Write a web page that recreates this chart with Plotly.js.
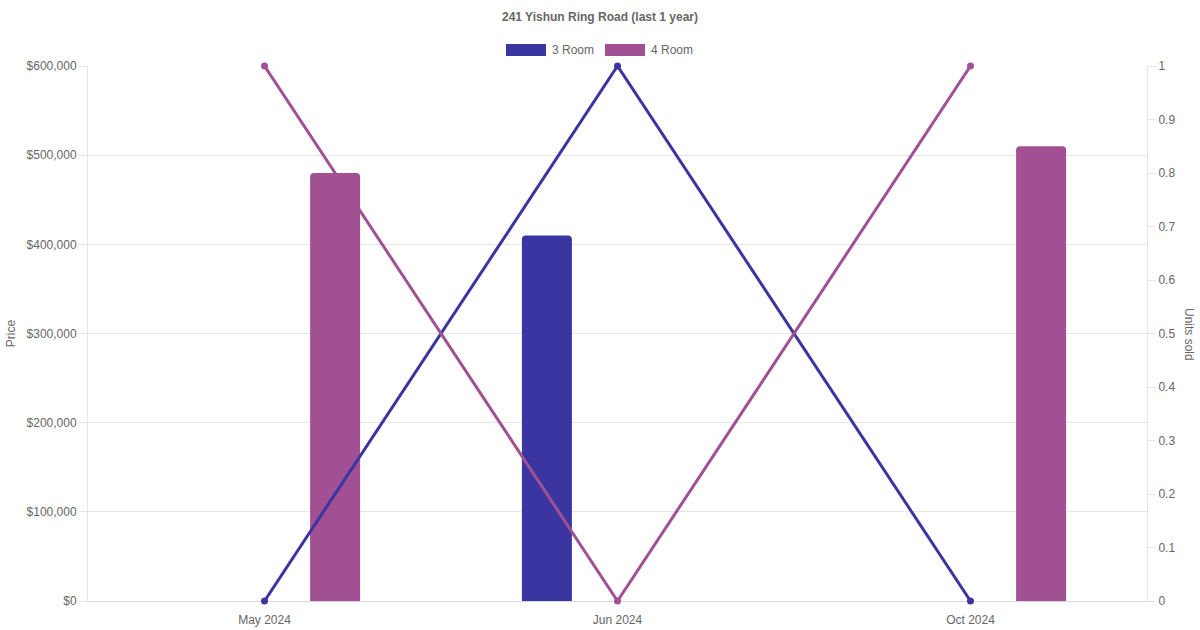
<!DOCTYPE html>
<html>
<head>
<meta charset="utf-8">
<script src="https://cdn.plot.ly/plotly-3.0.1.min.js"></script>
<style>html,body{margin:0;padding:0;background:#fff;}#chart{width:1200px;height:630px;}</style>
</head>
<body>
<div id="chart"></div>
<script>
const months = ["May 2024", "Jun 2024", "Oct 2024"];
const price3Room = [null, 410000, null];
const price4Room = [480000, null, 510000];
const units3Room = [0, 1, 0];
const units4Room = [1, 0, 1];
const seriesNames = ["3 Room", "4 Room"];
const priceTicks = [0, 100000, 200000, 300000, 400000, 500000, 600000];
const unitTicks = [0, 0.1, 0.2, 0.3, 0.4, 0.5, 0.6, 0.7, 0.8, 0.9, 1];

const c3 = "#3a35a0", c4 = "#a05093";
const xIdx = months.map((m, i) => i);
const bw = 50 / 353;

const traces = [
  {type: "scatter", mode: "lines+markers", x: xIdx, y: units3Room, yaxis: "y2", name: seriesNames[0],
   line: {color: c3, width: 3}, marker: {color: c3, size: 7}, showlegend: false, hoverinfo: "skip", cliponaxis: false},
  {type: "scatter", mode: "lines+markers", x: xIdx, y: units4Room, yaxis: "y2", name: seriesNames[1],
   line: {color: c4, width: 3}, marker: {color: c4, size: 7}, showlegend: false, hoverinfo: "skip", cliponaxis: false},
  {type: "bar", x: xIdx, y: price3Room, name: seriesNames[0], marker: {color: c3},
   width: bw, offset: -0.2 - bw / 2, showlegend: false},
  {type: "bar", x: xIdx, y: price4Room, name: seriesNames[1], marker: {color: c4},
   width: bw, offset: 0.2 - bw / 2, showlegend: false}
];

const font = {family: "Liberation Sans, Arial, sans-serif", size: 12, color: "#666"};

const layout = {
  width: 1200, height: 630,
  margin: {l: 88, r: 53, t: 66, b: 29},
  paper_bgcolor: "#fff", plot_bgcolor: "#fff",
  font: font,
  barmode: "overlay",
  barcornerradius: 4,
  showlegend: false,
  title: {text: "<b>241 Yishun Ring Road (last 1 year)</b>", x: 0.5, xanchor: "center", y: 1 - 17 / 630, yanchor: "middle",
          font: {family: font.family, size: 12, color: "#666"}},
  xaxis: {
    range: [-0.5, 2.5], tickvals: xIdx, ticktext: months, showgrid: false, zeroline: false,
    showline: true, linecolor: "#d9d9d9", linewidth: 1, ticks: "outside", ticklen: 8, tickcolor: "rgba(0,0,0,0)",
    tickfont: font, fixedrange: true, layer: "below traces"
  },
  yaxis: {
    range: [0, 600000], tickvals: priceTicks, ticktext: priceTicks.map(v => "$" + v.toLocaleString("en-US")),
    showgrid: true, gridcolor: "#e5e5e5", zeroline: false, showline: true, linecolor: "#e5e5e5",
    ticks: "outside", ticklen: 8, tickcolor: "#e5e5e5", tickfont: font, layer: "below traces",
    title: {text: "Price", font: font, standoff: 8}
  },
  yaxis2: {
    range: [0, 1], tickvals: unitTicks, ticktext: unitTicks.map(String), overlaying: "y", side: "right",
    showgrid: false, zeroline: false, showline: true, linecolor: "#e5e5e5", layer: "below traces",
    ticks: "outside", ticklen: 8, tickcolor: "#e5e5e5", tickfont: font
  },
  shapes: [
    {type: "rect", xref: "paper", yref: "paper", x0: (506 - 88) / 1059, x1: (546 - 88) / 1059,
     y0: (601 - 56) / 535, y1: (601 - 44) / 535, fillcolor: c3, line: {width: 0}},
    {type: "rect", xref: "paper", yref: "paper", x0: (605 - 88) / 1059, x1: (645 - 88) / 1059,
     y0: (601 - 56) / 535, y1: (601 - 44) / 535, fillcolor: c4, line: {width: 0}}
  ],
  annotations: [
    {text: seriesNames[0], xref: "paper", yref: "paper", x: (550 - 88) / 1059, y: (601 - 50) / 535,
     xanchor: "left", yanchor: "middle", showarrow: false, font: font},
    {text: seriesNames[1], xref: "paper", yref: "paper", x: (649 - 88) / 1059, y: (601 - 50) / 535,
     xanchor: "left", yanchor: "middle", showarrow: false, font: font},
    {text: "Units sold", xref: "paper", yref: "paper", x: (1189 - 88) / 1059, y: (601 - 334) / 535,
     xanchor: "center", yanchor: "middle", textangle: 90, showarrow: false, font: font}
  ]
};

Plotly.newPlot("chart", traces, layout, {displayModeBar: false, staticPlot: true});
</script>
</body>
</html>
